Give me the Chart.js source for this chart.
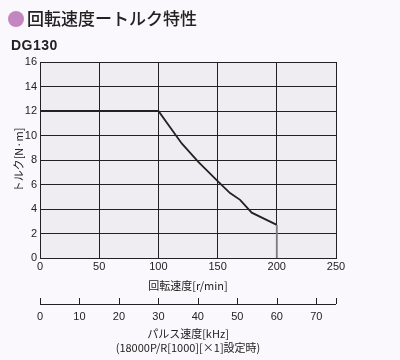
<!DOCTYPE html>
<html><head><meta charset="utf-8">
<script src="https://cdn.jsdelivr.net/npm/chart.js@4"></script>
<style>
html,body{margin:0;padding:0;background:#faf8fc;}
#wrap{position:relative;width:400px;height:360px;}
canvas{position:absolute;left:0;top:0;}
#title{position:absolute;left:27px;top:6px;font-family:"Noto Sans CJK JP";font-size:17px;font-weight:500;color:#222;line-height:24px;white-space:nowrap;}
#dot{position:absolute;left:8px;top:11px;width:16px;height:16px;border-radius:50%;background:#c386c0;}
#model{position:absolute;left:11px;top:36px;font-family:"Liberation Sans";font-weight:bold;font-size:14px;color:#222;letter-spacing:0.5px;line-height:18px;}
</style></head>
<body><div id="wrap">
<canvas id="c" width="400" height="360"></canvas>
<div id="dot"></div><div id="title">回転速度ートルク特性</div>
<div id="model">DG130</div>
</div>
<script>
const speed = [0, 100, 112.6, 119.7, 133.7, 149.2, 160.5, 169, 178.8, 200, 200];
const torque = [12, 12, 10.3, 9.35, 7.85, 6.35, 5.3, 4.75, 3.7, 2.7, 0];
const yTicks = [0, 2, 4, 6, 8, 10, 12, 14, 16];
const xTitle = "回転速度[r/min]";
const yTitle = "トルク[N·m]";
const pulseTitle = ["パルス速度[kHz]", "(18000P/R[1000][×1]設定時)"];
const pulsePerRpm = 60 / 200;

const font = {family: '"Liberation Sans","Noto Sans CJK JP"', size: 11};
const jfont = {family: '"Noto Sans CJK JP","Liberation Sans"', size: 11};

const bgPlugin = {
  id: 'bg',
  beforeDraw(chart) {
    const a = chart.chartArea, ctx = chart.ctx;
    ctx.save(); ctx.fillStyle = '#efedf1';
    ctx.fillRect(a.left, a.top, a.right - a.left, a.bottom - a.top);
    ctx.restore();
  },
  afterDraw(chart) {
    const s = chart.scales.x2, ctx = chart.ctx;
    const y = s.top + 6;
    ctx.save(); ctx.strokeStyle = '#222'; ctx.lineWidth = 1;
    ctx.beginPath();
    ctx.moveTo(s.left, y + 0.5); ctx.lineTo(s.right, y + 0.5);
    s.ticks.forEach(t => {
      const px = Math.round(s.getPixelForValue(t.value)) + 0.5;
      ctx.moveTo(px, y); ctx.lineTo(px, y - 6);
    });
    ctx.stroke(); ctx.restore();
  }
};

new Chart(document.getElementById('c'), {
  type: 'line',
  data: {
    datasets: [{
      data: speed.map((v, i) => ({x: v, y: torque[i]})),
      borderColor: '#222', borderWidth: 1.8, pointRadius: 0, tension: 0,
      segment: {borderColor: c => c.p0.parsed.x === c.p1.parsed.x ? '#7a7a7a' : '#222'},
      xAxisID: 'x', yAxisID: 'y'
    }]
  },
  options: {
    responsive: false, animation: false,
    layout: {padding: {left: 0, top: 62, right: 64, bottom: 0}},
    plugins: {legend: {display: false}, tooltip: {enabled: false}},
    scales: {
      x: {
        type: 'linear', position: 'bottom', min: 0, max: 250,
        ticks: {stepSize: 50, color: '#222', font: font, padding: 2, maxRotation: 0},
        grid: {color: '#222', lineWidth: 1, drawTicks: false},
        border: {color: '#222', width: 1},
        title: {display: true, text: xTitle, color: '#222', font: jfont, padding: {top: 2, bottom: 6}},
        afterFit(s) { s.height = 40; }
      },
      x2: {
        type: 'linear', position: 'bottom', min: 0, max: 250 * pulsePerRpm,
        ticks: {stepSize: 10, color: '#222', font: font, padding: 12, maxRotation: 0,
          callback: v => v <= 70 ? v : ''},
        grid: {display: false, drawTicks: false},
        border: {display: false},
        title: {display: true, text: pulseTitle, color: '#222', font: jfont, padding: {top: 2, bottom: 6}},
        afterFit(s) { s.height = 62; }
      },
      y: {
        type: 'linear', min: 0, max: 16,
        afterBuildTicks(s) { s.ticks = yTicks.map(v => ({value: v})); },
        ticks: {color: '#222', font: font, padding: 3},
        grid: {color: '#222', lineWidth: 1, drawTicks: false},
        border: {color: '#222', width: 1},
        title: {display: true, text: yTitle, color: '#222', font: jfont, padding: {top: 12, bottom: 2}},
        afterFit(s) { s.width = 40; }
      }
    }
  },
  plugins: [bgPlugin]
});
</script>
</body></html>
